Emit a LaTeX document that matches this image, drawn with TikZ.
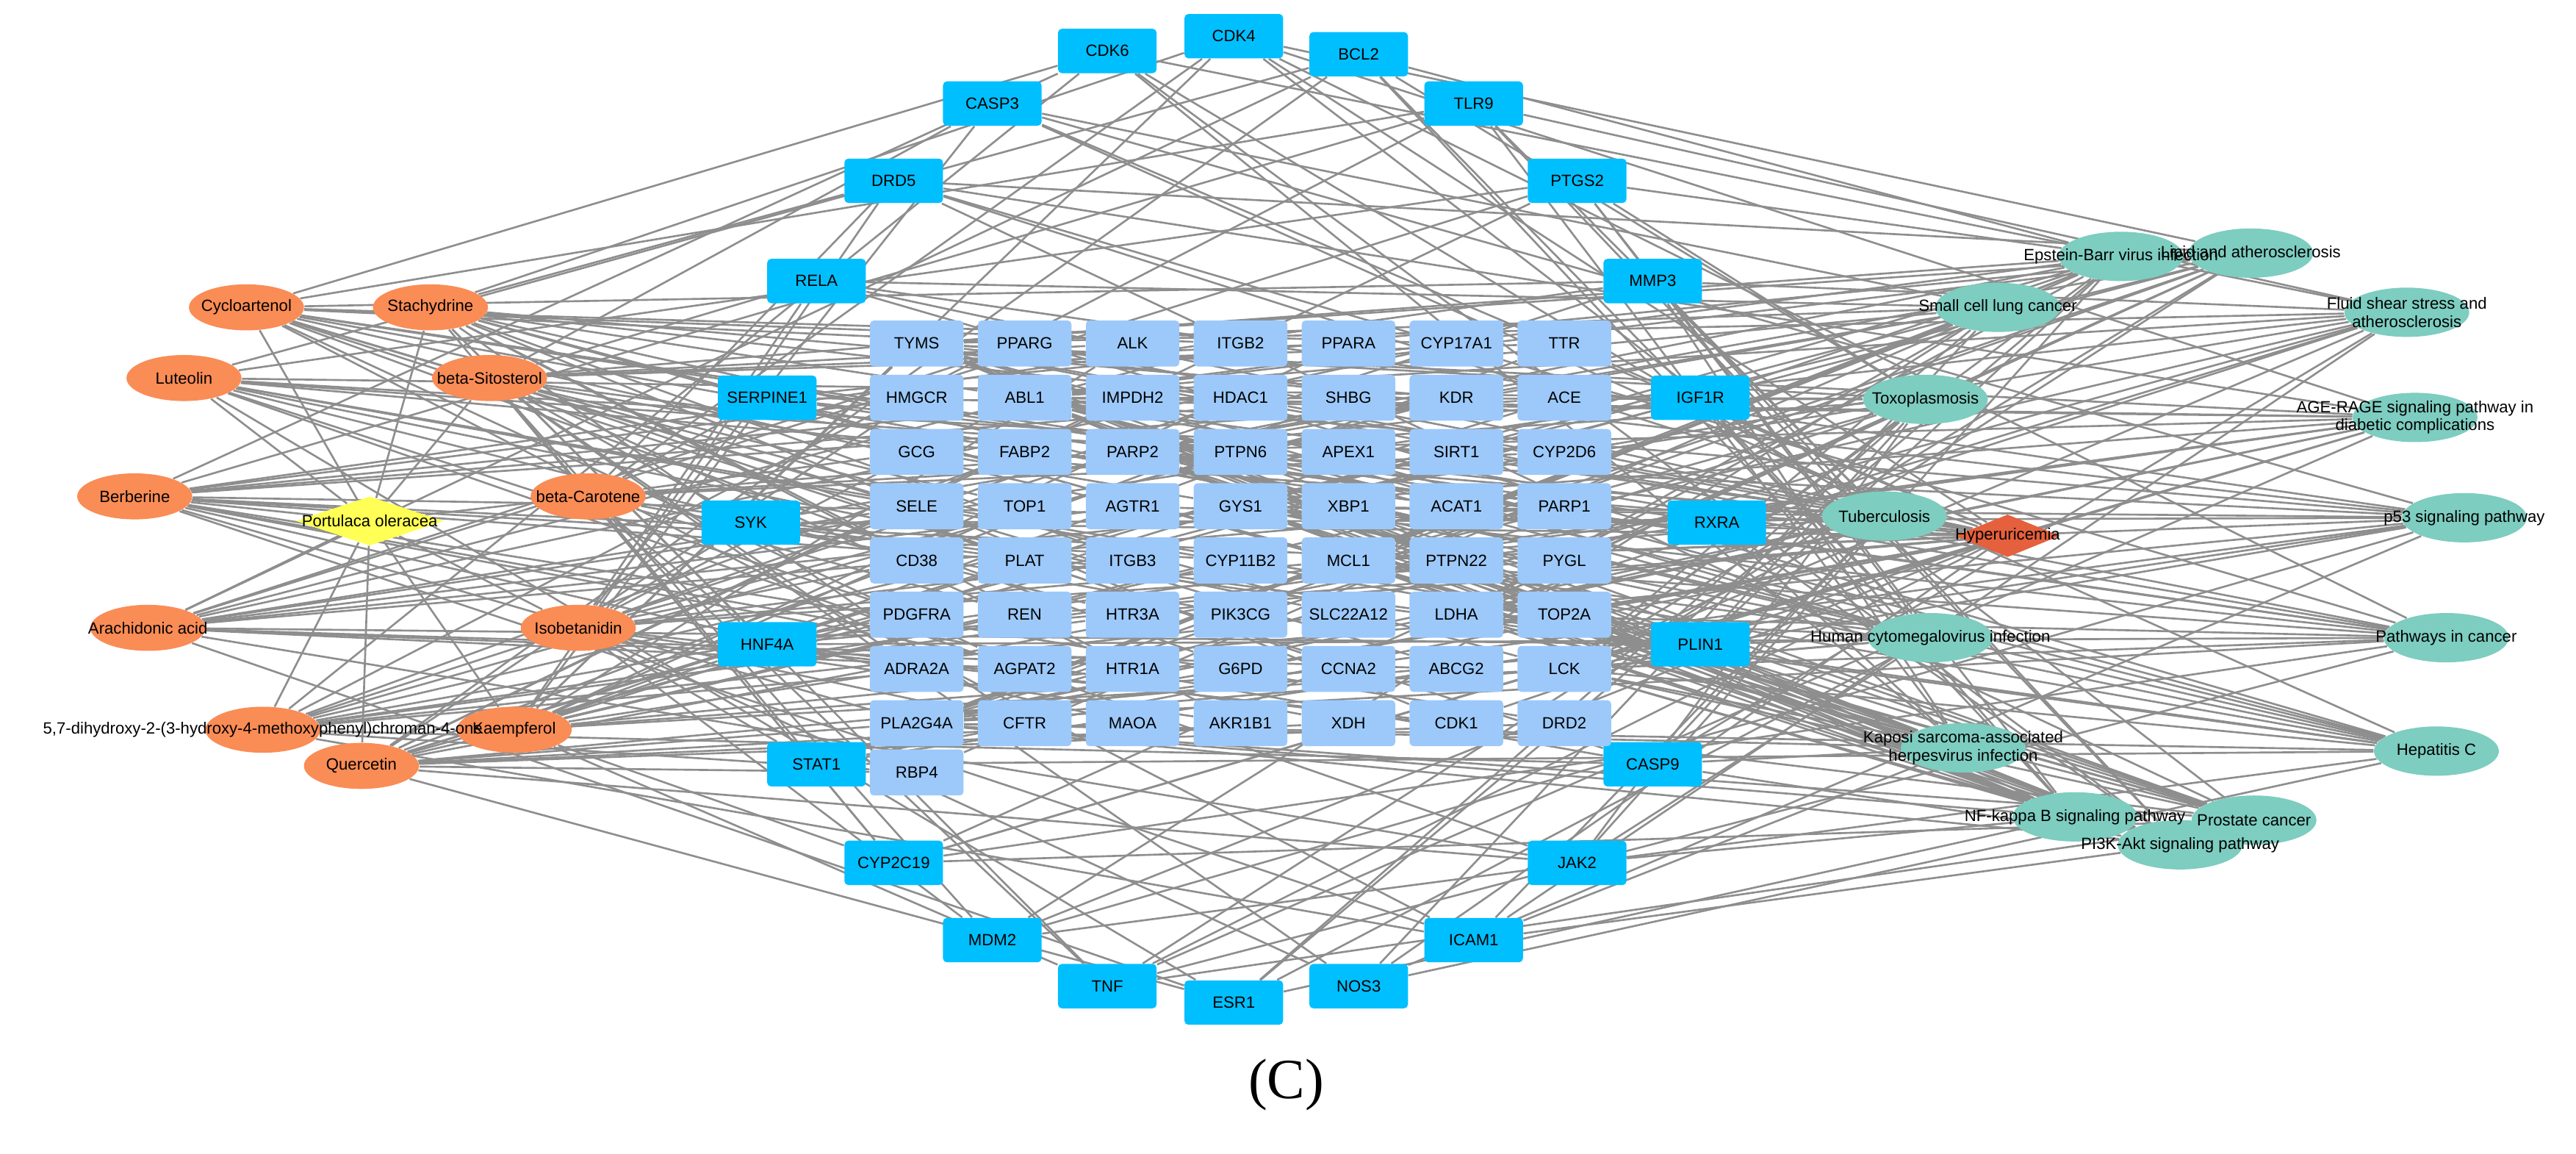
\documentclass[tikz,border=0pt]{standalone}
\usepackage{fontspec}
\setmainfont{Liberation Sans}
\newfontfamily\capfont{Liberation Serif}
\usetikzlibrary{shapes.geometric}
\pgfdeclarelayer{bg}\pgfsetlayers{bg,main}
\definecolor{outb}{HTML}{00BFFF}
\definecolor{inb}{HTML}{9CC9FA}
\definecolor{org}{HTML}{FA8C55}
\definecolor{tea}{HTML}{7DCDC0}
\definecolor{hyp}{HTML}{E5603C}
\definecolor{yel}{HTML}{FFFF55}
\definecolor{edg}{HTML}{8E8E8E}
\tikzset{
 lab/.style={font=\fontsize{6.3}{7}\selectfont},
 outer/.style={lab,fill=outb,rounded corners=1.5pt,minimum width=60*0.02236cm,minimum height=27*0.02236cm,inner sep=0pt},
 inner/.style={lab,fill=inb,rounded corners=1.5pt,minimum width=57*0.02236cm,minimum height=28*0.02236cm,inner sep=0pt},
 ello/.style={ellipse,fill=org,minimum width=70*0.02236cm,minimum height=28*0.02236cm,inner sep=0pt},
 ellt/.style={ellipse,fill=tea,minimum width=76*0.02236cm,minimum height=30*0.02236cm,inner sep=0pt},
 edge/.style={draw=edg,line width=0.75pt},
}
\begin{document}
\begin{tikzpicture}[x=0.02236cm,y=-0.02236cm]
\useasboundingbox (0,0) rectangle (1568,702);
% outer targets
\foreach \n/\x/\y/\t in {1/674/31/CDK6,2/751/22/CDK4,3/827/33/BCL2,4/604/63/CASP3,5/897/63/TLR9,6/544/110/DRD5,7/960/110/PTGS2,8/497/171/RELA,9/1006/171/MMP3,10/467/242/SERPINE1,11/1035/242/IGF1R,12/457/318/SYK,13/1045/318/RXRA,14/467/392/HNF4A,15/1035/392/PLIN1,16/497/465/STAT1,17/1006/465/CASP9,18/544/525/CYP2C19,19/960/525/JAK2,20/604/572/MDM2,21/897/572/ICAM1,22/674/600/TNF,23/751/610/ESR1,24/827/600/NOS3}
 \node[outer] (o\n) at (\x,\y) {\t};
% inner grid
\foreach \row [count=\r] in {
 {TYMS,PPARG,ALK,ITGB2,PPARA,CYP17A1,TTR},
 {HMGCR,ABL1,IMPDH2,HDAC1,SHBG,KDR,ACE},
 {GCG,FABP2,PARP2,PTPN6,APEX1,SIRT1,CYP2D6},
 {SELE,TOP1,AGTR1,GYS1,XBP1,ACAT1,PARP1},
 {CD38,PLAT,ITGB3,CYP11B2,MCL1,PTPN22,PYGL},
 {PDGFRA,REN,HTR3A,PIK3CG,SLC22A12,LDHA,TOP2A},
 {ADRA2A,AGPAT2,HTR1A,G6PD,CCNA2,ABCG2,LCK},
 {PLA2G4A,CFTR,MAOA,AKR1B1,XDH,CDK1,DRD2}}
 \foreach \t [count=\c] in \row
  \node[inner] (g-\r-\c) at ({558+65.7*(\c-1)},{209+33*(\r-1)}) {\t};
\node[inner] (g-9-1) at (558,470) {RBP4};
% left compounds
\foreach \n/\x/\y in {1/150/187,2/262/187,3/112/230,4/298/230,5/82/302,6/358/302,7/90/382,8/352/382,9/160/444,10/313/444,11/220/466}
 \node[ello] (l\n) at (\x,\y) {};
\foreach \n/\t in {1/Cycloartenol,2/Stachydrine,3/Luteolin,4/beta-Sitosterol,5/Berberine,6/beta-Carotene,7/Arachidonic acid,8/Isobetanidin,9/{5,7-dihydroxy-2-(3-hydroxy-4-methoxyphenyl)chroman-4-one},10/Kaempferol,11/Quercetin}
 \node[lab] at (l\n) {\t};
\node[diamond,aspect=3.2,fill=yel,minimum width=90*0.02236cm,minimum height=30*0.02236cm,inner sep=0pt] (por) at (225,317) {};
\node[lab] at (por) {Portulaca oleracea};
% right diseases
\foreach \n/\x/\y in {1/1291/156,2/1370/154,3/1465/190,4/1216/187,5/1172/243,6/1470/254,7/1147/314,8/1500/315,9/1175/388,10/1489/388,11/1195/455,12/1483/457,13/1263/497,14/1372/499,15/1327/514}
 \node[ellt] (r\n) at (\x,\y) {};
\node[diamond,aspect=2.6,fill=hyp,minimum width=64*0.02236cm,minimum height=26*0.02236cm,inner sep=0pt] (hyp) at (1222,326) {};
\foreach \n/\t in {1/Epstein-Barr virus infection,2/Lipid and atherosclerosis,4/Small cell lung cancer,5/Toxoplasmosis,7/Tuberculosis,8/p53 signaling pathway,9/Human cytomegalovirus infection,10/Pathways in cancer,12/Hepatitis C,13/NF-kappa B signaling pathway,14/Prostate cancer,15/PI3K-Akt signaling pathway}
 \node[lab] at (r\n) {\t};
\node[lab,align=center] at (r3) {Fluid shear stress and\\atherosclerosis};
\node[lab,align=center] at (r6) {AGE-RAGE signaling pathway in\\diabetic complications};
\node[lab,align=center] at (r11) {Kaposi sarcoma-associated\\herpesvirus infection};
\node[lab] at (hyp) {Hyperuricemia};
\node[font=\capfont\fontsize{22}{24}\selectfont] (cap) at (783,660) {(C)};
% edges
\begin{pgfonlayer}{bg}
\foreach \i in {1,...,11} {
 \draw[edge] (por) -- (l\i);
 \foreach \r in {1,...,8} \foreach \c in {1,...,7} {
  \pgfmathtruncatemacro\m{mod(\r*7+\c*3+\i*5,6)}
  \ifnum\m=0 \draw[edge] (l\i) -- (g-\r-\c); \fi }
 \foreach \j in {1,...,24} {
  \pgfmathtruncatemacro\m{mod(\j*5+\i*3,4)}
  \ifnum\m=0 \draw[edge] (l\i) -- (o\j); \fi }
}
\foreach \i in {1,...,15} {
 \foreach \r in {1,...,8} \foreach \c in {1,...,7} {
  \pgfmathtruncatemacro\m{mod(\r*5+\c*2+\i*7,7)}
  \ifnum\m=0 \draw[edge] (r\i) -- (g-\r-\c); \fi }
 \foreach \j in {1,...,24} {
  \pgfmathtruncatemacro\m{mod(\j*7+\i*3,4)}
  \ifnum\m=0 \draw[edge] (r\i) -- (o\j); \fi }
}
\foreach \j in {1,...,24} {
  \pgfmathtruncatemacro\m{mod(\j,2)}
  \ifnum\m=0 \draw[edge] (hyp) -- (o\j); \fi }
\foreach \r in {1,...,8} \foreach \c in {1,...,7} {
  \pgfmathtruncatemacro\m{mod(\r*3+\c,5)}
  \ifnum\m=0 \draw[edge] (hyp) -- (g-\r-\c); \fi }
\draw[edge] (l9) -- (g-9-1) (r1) -- (g-9-1) (l11) -- (g-9-1);
\end{pgfonlayer}
\end{tikzpicture}
\end{document}
